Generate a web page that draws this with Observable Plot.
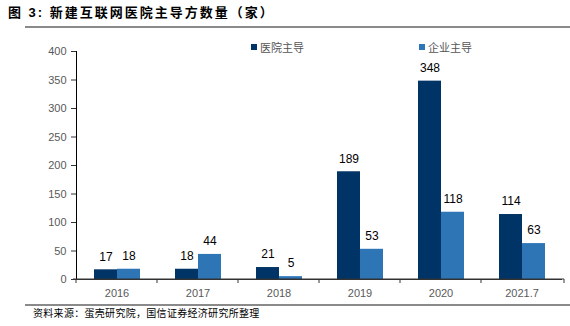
<!DOCTYPE html>
<html>
<head>
<meta charset="utf-8">
<script src="https://cdn.jsdelivr.net/npm/d3@7"></script>
<script src="https://cdn.jsdelivr.net/npm/@observablehq/plot@0.6"></script>
<style>
  body { margin: 0; background: #fff; }
  #wrap { position: relative; width: 570px; height: 326px; overflow: hidden; font-family: Arial, "Liberation Sans", "Noto Sans CJK SC", sans-serif; }
  #chart { position: absolute; left: 0; top: 0; }
  .title { position: absolute; left: 8px; top: 2px; font-size: 13px; font-weight: bold; color: #000; font-family: "Liberation Sans", Arial, "Noto Sans CJK SC", sans-serif; letter-spacing: 2px; }
  .rule { position: absolute; left: 25px; width: 545px; height: 2px; background: #8a8a8a; }
  .legend { position: absolute; top: 39px; font-size: 11px; color: #555; font-family: "Noto Sans CJK SC", sans-serif; display: flex; align-items: center; }
  .legend span.sw { display: inline-block; width: 6px; height: 6px; margin-right: 3px; }
  .source { position: absolute; left: 33px; top: 305px; font-size: 10px; color: #000; font-family: "Noto Sans CJK SC", sans-serif; letter-spacing: 0.3px; }
</style>
</head>
<body>
<div id="wrap">
  <div class="title">图 3:&nbsp;新建互联网医院主导方数量（家）</div>
  <div class="rule" style="top:26px"></div>
  <div id="chart"></div>
  <div class="legend" id="leg1" style="left:251px"></div>
  <div class="legend" id="leg2" style="left:419px"></div>
  <div class="rule" style="top:304px"></div>
  <div class="source">资料来源：蛋壳研究院，国信证券经济研究所整理</div>
</div>
<script>
const years = ["2016", "2017", "2018", "2019", "2020", "2021.7"];
const seriesNames = ["医院主导", "企业主导"];
const hospitalLed = [17, 18, 21, 189, 348, 114];
const enterpriseLed = [18, 44, 5, 53, 118, 63];
const seriesColors = ["#003366", "#2E75B6"];
const yTicks = [0, 50, 100, 150, 200, 250, 300, 350, 400];

const data = [];
years.forEach((y, i) => {
  data.push({year: y, series: seriesNames[0], value: hospitalLed[i]});
  data.push({year: y, series: seriesNames[1], value: enterpriseLed[i]});
});

const chart = Plot.plot({
  width: 570,
  height: 326,
  marginTop: 51,
  marginBottom: 47,
  marginLeft: 73,
  marginRight: 6,
  style: {fontFamily: "Arial, 'Liberation Sans', sans-serif", fontSize: "11px", overflow: "visible"},
  fx: {domain: years, paddingInner: 0, paddingOuter: 0, axis: "bottom", tickSize: 0, tickPadding: 10, label: null},
  x: {type: "band", domain: seriesNames, paddingInner: 0, paddingOuter: 0.7, axis: null},
  y: {domain: [0, 400], ticks: yTicks, tickSize: 5, tickPadding: 5, label: null, line: true},
  color: {domain: seriesNames, range: seriesColors},
  marks: [
    Plot.barY(data, {fx: "year", x: "series", y: "value", fill: "series"}),
    Plot.text(data, {fx: "year", x: "series", y: "value", text: d => String(d.value), dy: -13, fill: "#000", fontSize: 12}),
    Plot.ruleY([0], {stroke: "#333", strokeWidth: 1})
  ]
});

document.getElementById("chart").appendChild(chart);

const svg = d3.select(chart);
svg.selectAll("[aria-label='y-axis'] text, [aria-label='y-axis tick label'] text, [aria-label='fx-axis'] text, [aria-label='fx-axis tick label'] text").attr("fill", "#595959");
svg.selectAll("[aria-label='y-axis'] path, [aria-label='y-axis tick'] path, [aria-label='y-axis'] line").attr("stroke", "#333");

// boundary ticks on the category axis, from the fx scale
const fx = chart.scale("fx");
const yScale = chart.scale("y");
const y0 = yScale.apply(0);
const bounds = fx.domain.map(d => fx.apply(d)).concat([fx.range[1]]);
svg.append("g").selectAll("line").data(bounds).join("line")
  .attr("x1", d => d).attr("x2", d => d)
  .attr("y1", y0).attr("y2", y0 + 4)
  .attr("stroke", "#333");
svg.append("line").attr("x1", fx.range[0]).attr("x2", fx.range[1]).attr("y1", y0).attr("y2", y0).attr("stroke", "#333");

seriesNames.forEach((s, i) => {
  const el = document.getElementById("leg" + (i + 1));
  el.innerHTML = `<span class="sw" style="background:${seriesColors[i]}"></span>${s}`;
});
</script>
</body>
</html>
